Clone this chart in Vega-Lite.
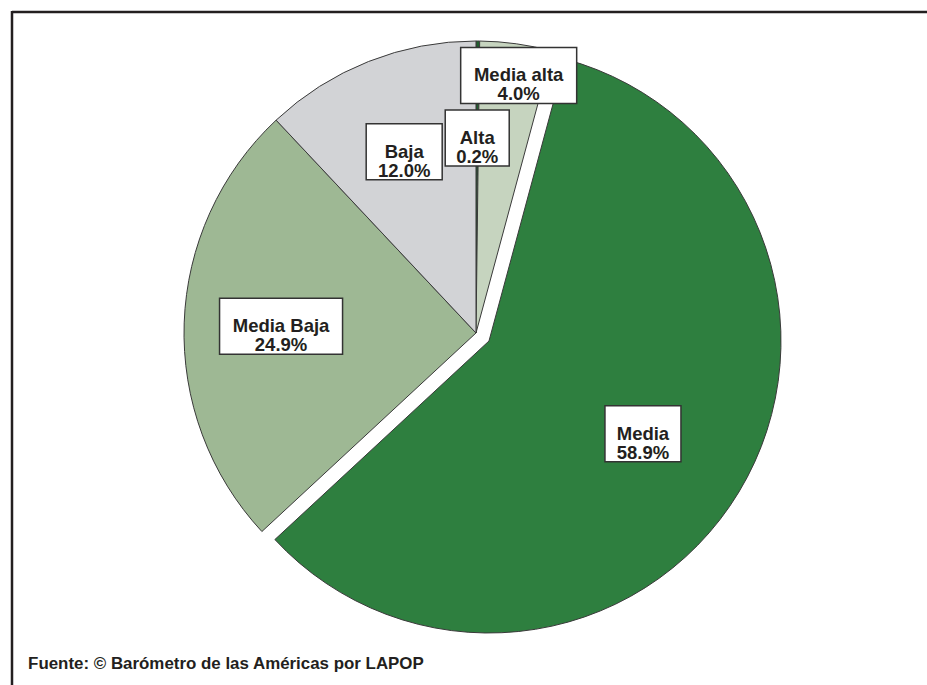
{
  "$schema": "https://vega.github.io/schema/vega-lite/v6.json",
  "usermeta": {"embedOptions": {"actions": false}},
  "width": 927,
  "height": 685,
  "padding": 0,
  "autosize": {"type": "fit", "contains": "padding"},
  "background": "white",
  "config": {"view": {"stroke": null, "strokeWidth": 0}},
  "data": {
    "values": [
      {"cat": "Alta", "pct": 0.2, "ord": 1},
      {"cat": "Media alta", "pct": 4.0, "ord": 2},
      {"cat": "Media", "pct": 58.9, "ord": 3},
      {"cat": "Media Baja", "pct": 24.9, "ord": 4},
      {"cat": "Baja", "pct": 12.0, "ord": 5}
    ]
  },
  "transform": [
    {"stack": "pct", "groupby": [], "sort": [{"field": "ord", "order": "ascending"}], "as": ["t0", "t1"]},
    {"calculate": "((datum.t0 + datum.t1) / 200) * 2 * PI + (datum.cat === 'Media alta' ? 0.026 : 0)", "as": "ang"},
    {"calculate": "datum.cat === 'Media alta' ? 89.4 : 66.8", "as": "lr"},
    {"calculate": "datum.lr * sin(datum.ang)", "as": "lx"},
    {"calculate": "datum.lr * cos(datum.ang)", "as": "ly"},
    {"calculate": "datum.cat + '\\n' + format(datum.pct, '.1f') + '%'", "as": "lbl"}
  ],
  "layer": [
    {
      "transform": [{"filter": "datum.cat !== 'Media'"}],
      "mark": {"type": "arc", "radius": 292, "stroke": "#3a3a3a", "strokeWidth": 1},
      "encoding": {
        "x": {"datum": 0, "type": "quantitative", "scale": {"type": "linear", "domain": [-163.01, 154.45], "nice": false, "zero": false}, "axis": null},
        "y": {"datum": 0, "type": "quantitative", "scale": {"type": "linear", "domain": [-120.55, 114.04], "nice": false, "zero": false}, "axis": null},
        "theta": {"field": "t0", "type": "quantitative", "scale": {"domain": [0, 100]}},
        "theta2": {"field": "t1"},
        "color": {
          "field": "cat",
          "type": "nominal",
          "scale": {
            "domain": ["Alta", "Media alta", "Media", "Media Baja", "Baja"],
            "range": ["#1f5f2d", "#c6d4bf", "#2e7f3f", "#9eb894", "#d2d3d6"]
          },
          "legend": null
        }
      }
    },
    {
      "transform": [{"filter": "datum.cat === 'Media'"}],
      "mark": {"type": "arc", "radius": 292, "stroke": "#3a3a3a", "strokeWidth": 1},
      "encoding": {
        "x": {"datum": 4.45, "type": "quantitative", "scale": {"type": "linear", "domain": [-163.01, 154.45], "nice": false, "zero": false}, "axis": null},
        "y": {"datum": -2.74, "type": "quantitative", "scale": {"type": "linear", "domain": [-120.55, 114.04], "nice": false, "zero": false}, "axis": null},
        "theta": {"field": "t0", "type": "quantitative", "scale": {"domain": [0, 100]}},
        "theta2": {"field": "t1"},
        "color": {
          "field": "cat",
          "type": "nominal",
          "scale": {
            "domain": ["Alta", "Media alta", "Media", "Media Baja", "Baja"],
            "range": ["#1f5f2d", "#c6d4bf", "#2e7f3f", "#9eb894", "#d2d3d6"]
          },
          "legend": null
        }
      }
    },
    {
      "mark": {"type": "point", "filled": true, "fill": "white", "stroke": "#333333", "strokeWidth": 1.5, "size": 400, "opacity": 1},
      "encoding": {
        "x": {"field": "lx", "type": "quantitative", "scale": {"type": "linear", "domain": [-163.01, 154.45], "nice": false, "zero": false}, "axis": null},
        "y": {"field": "ly", "type": "quantitative", "scale": {"type": "linear", "domain": [-120.55, 114.04], "nice": false, "zero": false}, "axis": null},
        "shape": {
          "field": "cat",
          "type": "nominal",
          "scale": {
            "domain": ["Alta", "Media alta", "Media", "Media Baja", "Baja"],
            "range": [
              "M-3.2,-2.8L3.2,-2.8L3.2,2.8L-3.2,2.8Z",
              "M-5.8,-2.8L5.8,-2.8L5.8,2.8L-5.8,2.8Z",
              "M-3.8,-2.8L3.8,-2.8L3.8,2.8L-3.8,2.8Z",
              "M-6.15,-2.8L6.15,-2.8L6.15,2.8L-6.15,2.8Z",
              "M-3.8,-2.8L3.8,-2.8L3.8,2.8L-3.8,2.8Z"
            ]
          },
          "legend": null
        }
      }
    },
    {
      "mark": {"type": "text", "lineBreak": "\n", "font": "Liberation Sans", "fontWeight": "bold", "fontSize": 18.5, "lineHeight": 19, "color": "#231f20", "align": "center", "baseline": "middle"},
      "encoding": {
        "x": {"field": "lx", "type": "quantitative", "scale": {"type": "linear", "domain": [-163.01, 154.45], "nice": false, "zero": false}, "axis": null},
        "y": {"field": "ly", "type": "quantitative", "scale": {"type": "linear", "domain": [-120.55, 114.04], "nice": false, "zero": false}, "axis": null},
        "text": {"field": "lbl", "type": "nominal"}
      }
    },
    {
      "data": {"values": [{}]},
      "mark": {"type": "rule", "color": "#231f20", "strokeWidth": 2.5, "clip": true},
      "encoding": {
        "x": {"datum": -158.9, "type": "quantitative", "scale": {"type": "linear", "domain": [-163.01, 154.45], "nice": false, "zero": false}, "axis": null},
        "x2": {"datum": 154.45},
        "y": {"datum": 109.9, "type": "quantitative", "scale": {"type": "linear", "domain": [-120.55, 114.04], "nice": false, "zero": false}, "axis": null}
      }
    },
    {
      "data": {"values": [{}]},
      "mark": {"type": "rule", "color": "#231f20", "strokeWidth": 2.5, "clip": true},
      "encoding": {
        "x": {"datum": -158.9, "type": "quantitative", "scale": {"type": "linear", "domain": [-163.01, 154.45], "nice": false, "zero": false}, "axis": null},
        "y": {"datum": 110.3, "type": "quantitative", "scale": {"type": "linear", "domain": [-120.55, 114.04], "nice": false, "zero": false}, "axis": null},
        "y2": {"datum": -120.55}
      }
    },
    {
      "data": {"values": [{"note": "Fuente: © Barómetro de las Américas por LAPOP"}]},
      "mark": {"type": "text", "font": "Liberation Sans", "fontWeight": "bold", "fontSize": 16.9, "color": "#231f20", "align": "left", "baseline": "alphabetic"},
      "encoding": {
        "x": {"datum": -153.4, "type": "quantitative", "scale": {"type": "linear", "domain": [-163.01, 154.45], "nice": false, "zero": false}, "axis": null},
        "y": {"datum": -115.2, "type": "quantitative", "scale": {"type": "linear", "domain": [-120.55, 114.04], "nice": false, "zero": false}, "axis": null},
        "text": {"field": "note", "type": "nominal"}
      }
    }
  ]
}
